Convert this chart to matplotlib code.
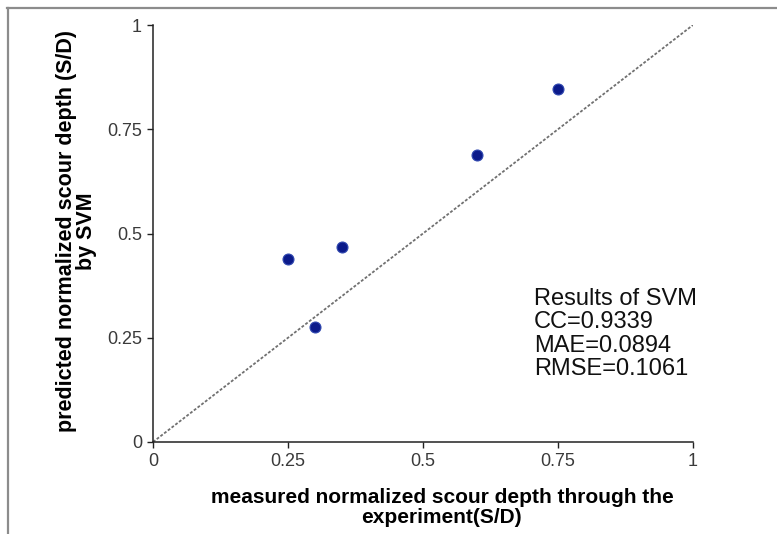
import matplotlib
matplotlib.use("Agg")
import matplotlib.pyplot as plt
from matplotlib.lines import Line2D

plt.rcParams["font.family"] = ["Liberation Sans", "DejaVu Sans"]

# values
measured = [0.25, 0.30, 0.35, 0.60, 0.75]
predicted = [0.439, 0.275, 0.467, 0.688, 0.847]
ticks = [0, 0.25, 0.5, 0.75, 1]
tick_labels = ["0", "0.25", "0.5", "0.75", "1"]
stats_lines = ["Results of SVM", "CC=0.9339", "MAE=0.0894", "RMSE=0.1061"]

fig = plt.figure(figsize=(7.77, 5.34), dpi=100)
ax = fig.add_axes([153 / 777, 92 / 534, 540 / 777, 417 / 534])

# 1:1 reference line
ax.plot([0, 1], [0, 1], color="#707070", linestyle=(0, (1.6, 1.0)), linewidth=1.3)
ax.scatter(measured, predicted, s=62, color="#0b1a8a", edgecolor="#3048b0",
           linewidth=0.8, zorder=3)

ax.set_xlim(0, 1)
ax.set_ylim(0, 1)
ax.set_xticks(ticks)
ax.set_xticklabels(tick_labels)
ax.set_yticks(ticks)
ax.set_yticklabels(tick_labels)
ax.tick_params(direction="out", length=4, width=1, labelsize=13,
               colors="#222222", labelcolor="#3a3a3a", pad=4)
for side in ("top", "right"):
    ax.spines[side].set_visible(False)
for side in ("left", "bottom"):
    ax.spines[side].set_linewidth(1.1)
    ax.spines[side].set_color("#222222")

ax.set_xlabel("measured normalized scour depth through the\nexperiment(S/D)",
              fontsize=15, fontweight="bold", linespacing=1.1)
ax.xaxis.set_label_coords(0.535, -0.11)
ax.set_ylabel("predicted normalized scour depth (S/D)\nby SVM",
              fontsize=15.5, fontweight="bold", linespacing=0.9)
ax.yaxis.set_label_coords(-0.104, 0.505)

ax.text(0.706, 0.369, "\n".join(stats_lines), transform=ax.transAxes,
        fontsize=17, va="top", ha="left", linespacing=1.07, color="#111111")

# gray frame around the figure (top and left edges visible)
frame_kw = dict(color="#8c8c8c", linewidth=1.6, transform=fig.transFigure)
fig.add_artist(Line2D([7 / 777, 1.0], [1 - 8 / 534, 1 - 8 / 534], **frame_kw))
fig.add_artist(Line2D([8 / 777, 8 / 777], [0.0, 1 - 8 / 534], **frame_kw))

fig.savefig("out.png", dpi=100)
